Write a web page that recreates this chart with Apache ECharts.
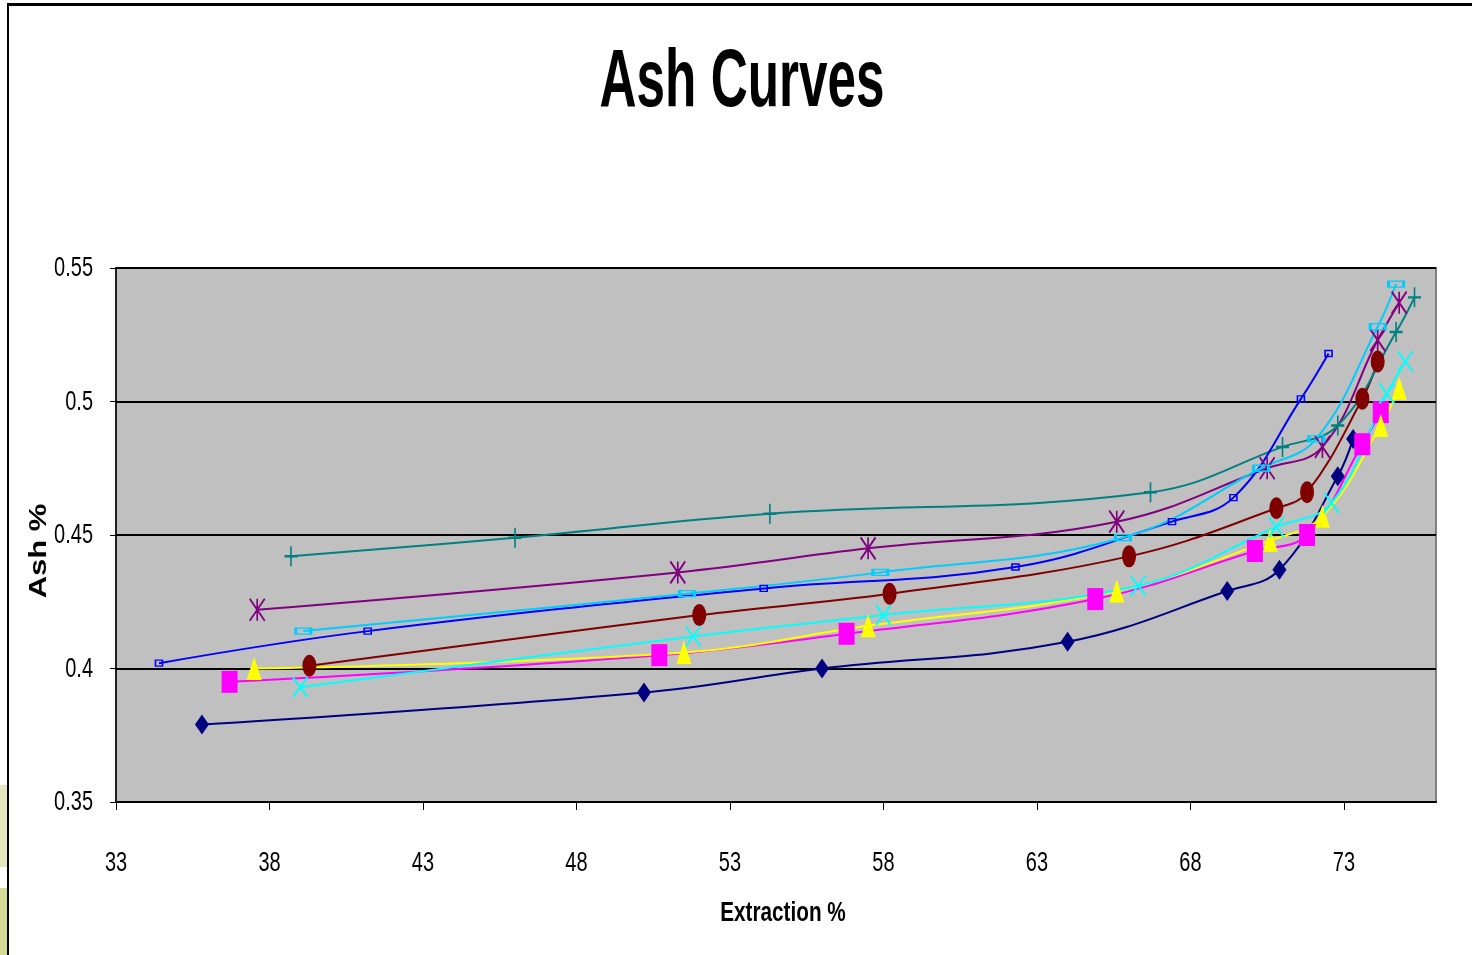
<!DOCTYPE html>
<html>
<head>
<meta charset="utf-8">
<title>Ash Curves</title>
<script src="https://cdn.jsdelivr.net/npm/echarts@6/dist/echarts.min.js"></script>
<style>
  html, body { margin: 0; padding: 0; background: #fff; }
  #chart { width: 1472px; height: 955px; }
</style>
</head>
<body>
<div id="chart"></div>
<script>
// data: [extraction %, ash %]
const navyDiamond = [[35.8, 0.379], [50.2, 0.391], [56.0, 0.400], [64.0, 0.410], [69.2, 0.429], [70.9, 0.437], [72.8, 0.472], [73.3, 0.486]];
const magentaSquare = [[36.7, 0.395], [50.7, 0.405], [56.8, 0.413], [64.9, 0.426], [70.1, 0.444], [71.8, 0.450], [73.6, 0.484], [74.2, 0.496]];
const yellowTriangle = [[37.5, 0.400], [51.5, 0.406], [57.5, 0.416], [65.6, 0.429], [70.6, 0.448], [72.3, 0.457], [74.2, 0.491], [74.8, 0.505]];
const cyanCross = [[39.0, 0.393], [51.8, 0.412], [58.0, 0.420], [66.3, 0.431], [70.8, 0.453], [72.6, 0.462], [74.4, 0.503], [75.0, 0.515]];
const darkRedCircle = [[39.3, 0.401], [52.0, 0.420], [58.2, 0.428], [66.0, 0.442], [70.8, 0.460], [71.8, 0.466], [73.6, 0.501], [74.1, 0.515]];
const skyBlueDash = [[39.1, 0.414], [51.6, 0.428], [57.9, 0.436], [65.8, 0.449], [70.3, 0.475], [72.1, 0.486], [74.1, 0.528], [74.7, 0.544]];
const blueDash = [[34.4, 0.402], [41.2, 0.414], [54.1, 0.430], [62.3, 0.438], [67.4, 0.455], [69.4, 0.464], [71.6, 0.501], [72.5, 0.518]];
const purpleStar = [[37.6, 0.422], [51.3, 0.436], [57.5, 0.445], [65.6, 0.455], [70.5, 0.475], [72.3, 0.483], [74.1, 0.523], [74.8, 0.537]];
const tealPlus = [[38.7, 0.442], [46.0, 0.449], [54.3, 0.458], [66.7, 0.466], [71.0, 0.483], [72.8, 0.491], [74.7, 0.526], [75.3, 0.539]];

const xTicks = [33, 38, 43, 48, 53, 58, 63, 68, 73];
const yTicks = [0.35, 0.4, 0.45, 0.5, 0.55];
const yTickLabels = ['0.35', '0.4', '0.45', '0.5', '0.55'];

const FONT = '"Liberation Sans", Arial, sans-serif';

// marker shapes
const X_PATH = 'path://M0,0L10,10M10,0L0,10';
const STAR_PATH = 'path://M0,0L10,10M10,0L0,10M5,0L5,10';
const PLUS_PATH = 'path://M5,0L5,10M0,5L10,5';

function line(name, data, color, symbol, size, opts) {
  opts = opts || {};
  return {
    name: name,
    type: 'line',
    data: data,
    smooth: 0.4,
    symbol: symbol,
    symbolSize: size,
    lineStyle: { color: color, width: 2 },
    itemStyle: opts.stroke
      ? { color: 'rgba(0,0,0,0)', borderColor: color, borderWidth: opts.stroke }
      : { color: color },
    emphasis: { disabled: true }
  };
}

function narrowText(x, y, text, align) {
  return {
    type: 'text', x: x, y: y, scaleX: 0.74, silent: true,
    style: { text: text, fill: '#000', font: '27px ' + FONT, align: align, verticalAlign: 'middle' }
  };
}

const chart = echarts.init(document.getElementById('chart'));

const frame = [
  // slide frame
  { type: 'rect', shape: { x: 0, y: 785, width: 7, height: 82 }, style: { fill: '#e4e7bd' }, silent: true },
  { type: 'rect', shape: { x: 0, y: 888, width: 7, height: 67 }, style: { fill: '#d6da97' }, silent: true },
  { type: 'line', shape: { x1: 8, y1: 4.5, x2: 1472, y2: 4.5 }, style: { stroke: '#000', lineWidth: 3 }, silent: true },
  { type: 'line', shape: { x1: 8, y1: 3, x2: 8, y2: 955 }, style: { stroke: '#000', lineWidth: 2 }, silent: true },
  // title and axis names
  {
    type: 'text', x: 742, y: 83, scaleX: 0.625, silent: true,
    style: { text: 'Ash Curves', fill: '#000', font: 'bold 82px ' + FONT, align: 'center', verticalAlign: 'middle' }
  },
  {
    type: 'text', x: 783, y: 913, scaleX: 0.74, silent: true,
    style: { text: 'Extraction %', fill: '#000', font: 'bold 28px ' + FONT, align: 'center', verticalAlign: 'middle' }
  },
  {
    type: 'text', x: 39, y: 551, rotation: Math.PI / 2, scaleY: 0.77, silent: true,
    style: { text: 'Ash %', fill: '#000', font: 'bold 31px ' + FONT, align: 'center', verticalAlign: 'middle' }
  }
];

chart.setOption({
  backgroundColor: '#fff',
  animation: false,
  grid: {
    left: 116,
    right: 36,
    top: 268,
    bottom: 153,
    show: true,
    backgroundColor: '#c0c0c0',
    borderColor: '#808080',
    borderWidth: 2
  },
  xAxis: {
    type: 'value',
    min: 33,
    max: 76,
    interval: 5,
    axisLine: { lineStyle: { color: '#000', width: 2 } },
    axisTick: { customValues: xTicks, length: 8, lineStyle: { color: '#000' } },
    axisLabel: { show: false },
    splitLine: { show: false }
  },
  yAxis: {
    type: 'value',
    min: 0.35,
    max: 0.55,
    interval: 0.05,
    axisLine: { show: true, lineStyle: { color: '#000', width: 1.5 } },
    axisTick: { show: true, length: 6, lineStyle: { color: '#000' } },
    axisLabel: { show: false },
    splitLine: { lineStyle: { color: '#000', width: 2 } }
  },
  graphic: frame,
  series: [
    line('Series 1', navyDiamond, '#000080', 'diamond', [14, 20]),
    line('Series 2', magentaSquare, '#ff00ff', 'rect', [16, 22]),
    line('Series 3', yellowTriangle, '#ffff00', 'triangle', [15, 23]),
    line('Series 4', cyanCross, '#00ffff', X_PATH, [15, 20], { stroke: 2 }),
    line('Series 5', purpleStar, '#800080', STAR_PATH, [15, 22], { stroke: 2 }),
    line('Series 6', darkRedCircle, '#800000', 'circle', [14, 22]),
    line('Series 7', tealPlus, '#008080', PLUS_PATH, [13, 20], { stroke: 2 }),
    line('Series 8', blueDash, '#0000ff', 'rect', [7, 6], { stroke: 1.5 }),
    line('Series 9', skyBlueDash, '#00ccff', 'rect', [15, 6], { stroke: 2 })
  ]
});

// tick labels in a condensed face, placed through the axes' own scales
const axisY = chart.convertToPixel({ yAxisIndex: 0 }, 0.35);
const axisX = chart.convertToPixel({ xAxisIndex: 0 }, 33);
const tickLabels = [];
xTicks.forEach((v) => {
  tickLabels.push(narrowText(chart.convertToPixel({ xAxisIndex: 0 }, v), axisY + 62, String(v), 'center'));
});
yTicks.forEach((v, i) => {
  tickLabels.push(narrowText(axisX - 23, chart.convertToPixel({ yAxisIndex: 0 }, v) + 1, yTickLabels[i], 'right'));
});
chart.setOption({ graphic: frame.concat(tickLabels) });

window.addEventListener('resize', () => {
  chart.resize();
});
</script>
</body>
</html>
